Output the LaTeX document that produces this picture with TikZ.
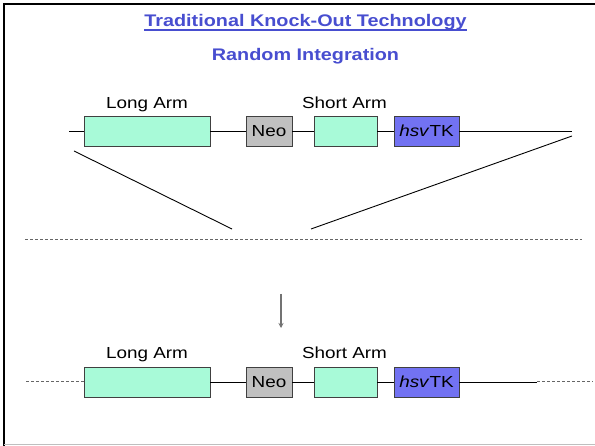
\documentclass[tikz,border=0pt]{standalone}
\usepackage{fontspec}
\setmainfont[FakeStretch=1.18]{Liberation Sans}
\usetikzlibrary{arrows.meta}
\definecolor{titleblue}{RGB}{72,78,208}
\definecolor{armfill}{RGB}{168,250,216}
\definecolor{neofill}{RGB}{192,192,192}
\definecolor{tkfill}{RGB}{114,114,242}
\definecolor{boxedge}{RGB}{64,64,64}
\tikzset{
  gene/.style={draw=boxedge, line width=0.9pt, inner sep=0pt, minimum height=30pt,
    font=\fontsize{16}{16}\selectfont},
  armbox/.style={gene, fill=armfill},
  neobox/.style={gene, fill=neofill, minimum width=46pt},
  tkbox/.style={gene, fill=tkfill, minimum width=65pt},
  armlabel/.style={anchor=base, inner sep=0pt, font=\fontsize{16}{16}\selectfont},
  heading/.style={anchor=base, inner sep=0pt, text=titleblue, font=\bfseries\fontsize{16.8}{17}\selectfont},
  dna/.style={line width=0.9pt, black},
  dnadash/.style={line width=1pt, gray!80!black, dash pattern=on 3pt off 2pt},
}
\begin{document}
\begin{tikzpicture}[x=1pt, y=-1pt]
\useasboundingbox (0,0) rectangle (595,446);
\fill[white] (0,0) rectangle (595,446);
% slide frame
\draw[line width=2.2pt] (4,446) -- (4,4) -- (595,4);
\draw[line width=1pt, black!25] (4,444.5) -- (595,444.5);

% headings
\node[heading] (title) at (305.5,27) {Traditional Knock-Out Technology};
\draw[titleblue, line width=1.5pt] ([yshift=-2.8pt]title.base west) -- ([yshift=-2.8pt]title.base east);
\node[heading] (subtitle) at (305.5,60.5) {Random Integration};

% targeting vector
\node[armbox, minimum width=126pt] (long1) at (147,131) {};
\node[neobox] (neo1) at (269,131) {Neo};
\node[armbox, minimum width=63pt] (short1) at (345.5,131) {};
\node[tkbox] (tk1) at (426.5,131) {\textit{hsv}TK};
\node[armlabel] (longlab1) at (147,109) {Long Arm};
\node[armlabel] (shortlab1) at (344.5,109) {Short Arm};
\coordinate (vecL) at (69,131);
\coordinate (vecR) at (572,131);
\draw[dna] (vecL) -- (long1.west);
\draw[dna] (long1.east) -- (neo1.west);
\draw[dna] (neo1.east) -- (short1.west);
\draw[dna] (short1.east) -- (tk1.west);
\draw[dna] (tk1.east) -- (vecR);

% insertion into the chromosome
\coordinate (insL1) at (74,151);
\coordinate (insL2) at (232,229);
\coordinate (insR1) at (572,136);
\coordinate (insR2) at (311,229);
\draw[line width=0.9pt] (insL1) -- (insL2);
\draw[line width=0.9pt] (insR1) -- (insR2);
\coordinate (chrL) at (25,239.5);
\coordinate (chrR) at (582,239.5);
\draw[dnadash] (chrL) -- (chrR);

% result arrow
\coordinate (arrTop) at (281,294);
\coordinate (arrBot) at (281,328);
\draw[line width=1.3pt, gray!90!black, -{Stealth[length=5pt,width=5pt]}] (arrTop) -- (arrBot);

% integrated locus
\node[armbox, minimum width=126pt] (long2) at (147,382) {};
\node[neobox] (neo2) at (269,382) {Neo};
\node[armbox, minimum width=63pt] (short2) at (345.5,382) {};
\node[tkbox] (tk2) at (426.5,382) {\textit{hsv}TK};
\node[armlabel] (longlab2) at (147,359) {Long Arm};
\node[armlabel] (shortlab2) at (344.5,359) {Short Arm};
\coordinate (locL) at (26,382);
\coordinate (locR1) at (537,382);
\coordinate (locR2) at (593,382);
\draw[dnadash] (locL) -- (long2.west);
\draw[dna] (long2.east) -- (neo2.west);
\draw[dna] (neo2.east) -- (short2.west);
\draw[dna] (short2.east) -- (tk2.west);
\draw[dna] (tk2.east) -- (locR1);
\draw[dnadash] (locR1) -- (locR2);
\end{tikzpicture}
\end{document}
